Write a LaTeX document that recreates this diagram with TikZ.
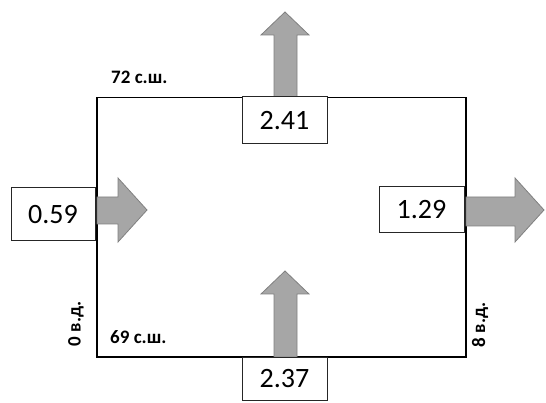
\documentclass[tikz,border=0pt]{standalone}
\usepackage{fontspec}
\setmainfont{Carlito}
\usetikzlibrary{positioning}

\begin{document}
\begin{tikzpicture}[
    x=1pt, y=-1pt,
    valbox/.style  = {draw=black!85, line width=1pt, fill=white, inner sep=0pt,
                      minimum width=85pt, minimum height=46pt,
                      font=\fontsize{28}{30}\selectfont},
    flow/.style    = {fill=black!35, draw=black!50, line width=0.8pt, line join=miter},
    coord/.style   = {font=\fontsize{19}{21}\selectfont\bfseries, inner sep=0pt},
    region/.style  = {draw=black, line width=1.6pt}
  ]
  \useasboundingbox (0,0) rectangle (546,403);

  % --- region frame ---
  \coordinate (NW) at (97,97.5);
  \coordinate (SE) at (466,357);
  \draw[region] (NW) rectangle (SE);

  % --- flow arrows ---
  \draw[flow] (274,97) -- (274,35) -- (261,35) -- (285,12) -- (309,35) -- (297,35) -- (297,97) -- cycle;
  \draw[flow] (274,357) -- (274,294) -- (261,294) -- (285,271) -- (309,294) -- (297,294) -- (297,357) -- cycle;
  \draw[flow] (97,197) -- (118,197) -- (118,178) -- (147,210) -- (118,242) -- (118,224) -- (97,224) -- cycle;
  \draw[flow] (466,197) -- (515,197) -- (515,178) -- (544,210) -- (515,242) -- (515,226) -- (466,226) -- cycle;

  % --- flux values ---
  \node[valbox, minimum height=47pt] (north) at (284.5,120.5) {2.41};
  \node[valbox, minimum height=43pt] (south) at (284.5,378.5) {2.37};
  \node[valbox, minimum width=84pt, minimum height=53pt] (west) at (53,214.5) {0.59};
  \node[valbox] (east) at (421.5,210) {1.29};

  % --- coordinates of the box ---
  \node[coord, anchor=west] (lat72) at (111,77) {72 с.ш.};
  \node[coord, anchor=west] (lat69) at (110,337) {69 с.ш.};
  \node[coord, rotate=90] (lon0) at (76,324) {0 в.д.};
  \node[coord, rotate=90] (lon8) at (480,325) {8 в.д.};

\end{tikzpicture}
\end{document}
